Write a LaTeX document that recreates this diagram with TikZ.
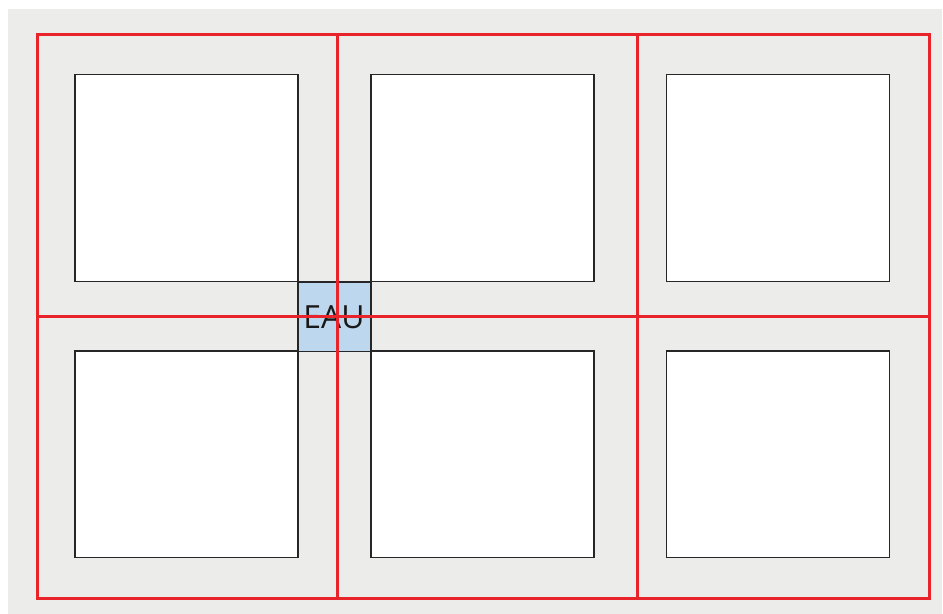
\documentclass[tikz,border=0pt]{standalone}
\usepackage{fontspec}
\setmainfont{Open Sans}
\definecolor{bggray}{HTML}{ECECEA}
\definecolor{gridred}{HTML}{E8232A}
\definecolor{eaublue}{HTML}{BDD7EE}
\tikzset{
  cell/.style={draw=black!85, line width=1.5bp, fill=white, inner sep=0pt, minimum width=223bp, minimum height=206.5bp, anchor=north west},
  eaubox/.style={draw=black!85, line width=1.5bp, fill=eaublue, inner sep=0pt, minimum width=73bp, minimum height=69.5bp, anchor=north west},
  eautext/.style={inner sep=0pt, font=\fontsize{32}{32}\selectfont, text=black!90},
  redline/.style={draw=gridred, line width=3bp}
}
\begin{document}
\begin{tikzpicture}[x=1bp, y=-1bp]
\useasboundingbox (0,0) rectangle (943,614);
\fill[white] (0,0) rectangle (943,614);
\fill[bggray] (8,9) rectangle (942,614);
% cells
\node[cell] (c11) at (74,74) {};
\node[cell] (c12) at (370,74) {};
\node[cell] (c13) at (665.5,74) {};
\node[cell] (c21) at (74,350) {};
\node[cell] (c22) at (370,350) {};
\node[cell] (c23) at (665.5,350) {};
% EAU
\node[eaubox] (eau) at (297,281) {};
\node[eautext] (eaulabel) at (334,317) {EAU};
% red grid
\coordinate (tl) at (37,35);
\coordinate (br) at (929.5,598.5);
\draw[redline] (tl) rectangle (br);
\coordinate (v1t) at (337,35);
\coordinate (v1b) at (337,598.5);
\coordinate (v2t) at (637,35);
\coordinate (v2b) at (637,598.5);
\coordinate (hl) at (37,316.5);
\coordinate (hr) at (929.5,316.5);
\draw[redline] (v1t) -- (v1b);
\draw[redline] (v2t) -- (v2b);
\draw[redline] (hl) -- (hr);
\end{tikzpicture}
\end{document}
